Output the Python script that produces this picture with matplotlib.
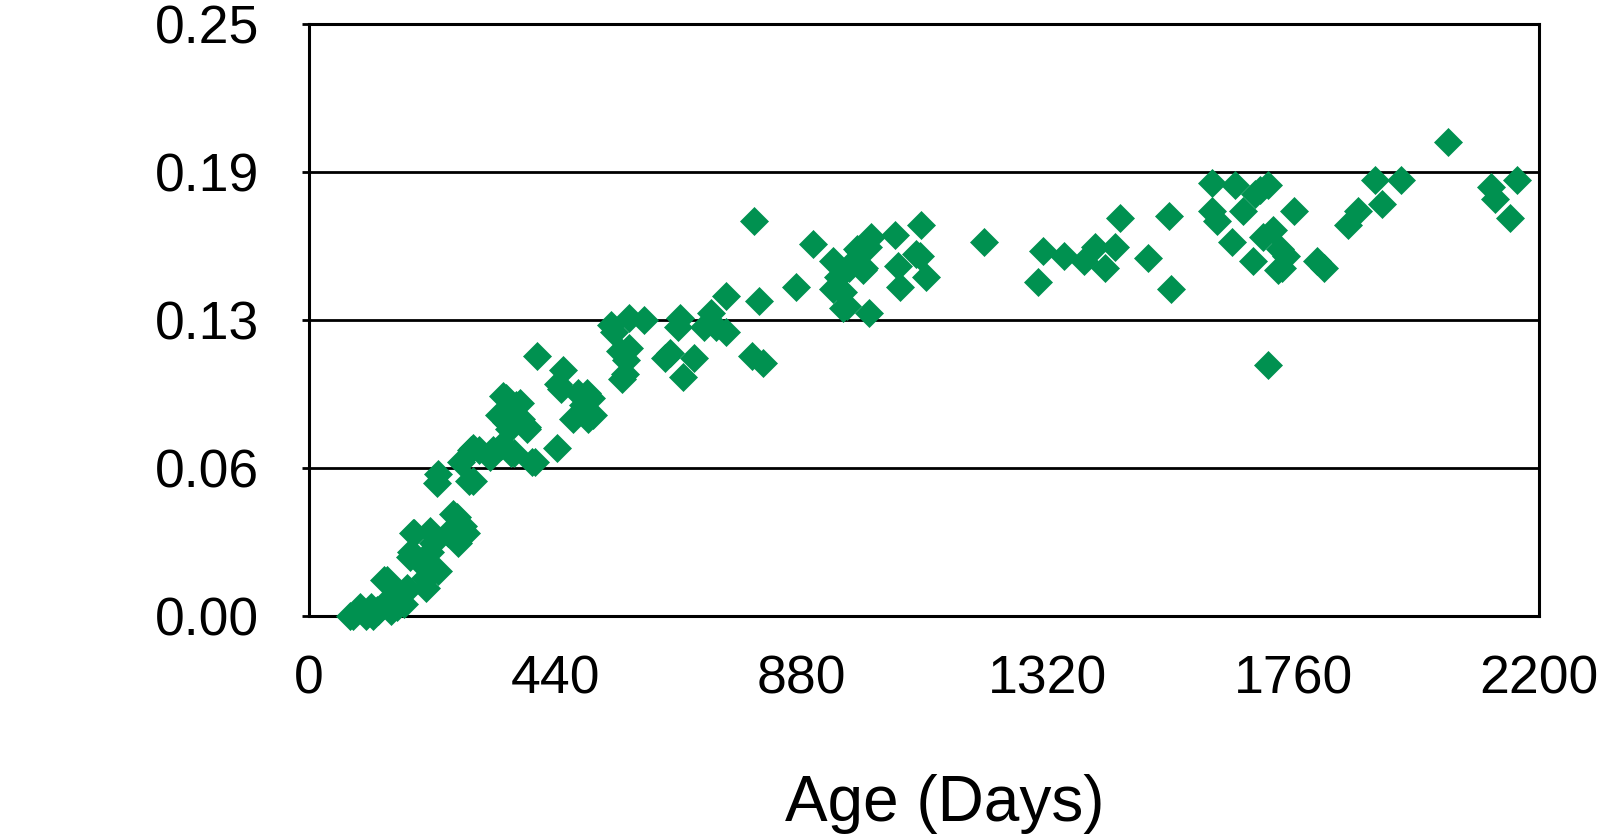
import matplotlib
matplotlib.use("Agg")
import matplotlib.pyplot as plt

plt.rcParams['font.family'] = ['Liberation Sans', 'DejaVu Sans']

# Age of each specimen (days) and the measured value
age_days = [
    79, 97, 110, 115, 124, 137, 146, 135, 161, 170, 176, 183, 188, 198, 207,
    216, 221, 230, 230, 249, 258, 267, 276, 280, 271, 289, 294, 304,
    340, 347, 357, 362, 371, 380, 390, 329, 344, 399, 408, 444, 454, 450,
    472, 481, 490, 499, 505, 541, 560, 567, 572, 572, 600, 636, 646, 664,
    660, 669, 688, 706, 719, 728, 746, 746, 796, 792, 805, 812, 871, 902,
    938, 947, 956, 962, 966, 975, 984, 993, 999, 1006, 1002, 1048, 1053,
    1057, 1085, 1094, 1103, 1207, 1304, 1313, 1350, 1386, 1405, 1423, 1441,
    1450, 1500, 1538, 1542, 1615, 1615, 1624, 1651, 1657, 1670, 1688, 1701,
    1706, 1715, 1715, 1725, 1734, 1748, 1761, 1803, 1816, 1858, 1876, 1907,
    1920, 1953, 2037, 2114, 2121, 2149, 2160,
    1692, 1737, 1741, 980, 1092, 938, 955, 991, 446, 497, 508, 353, 377,
    353, 390, 294, 324, 366, 404, 287, 556, 565, 545, 229, 264, 267, 186,
    216, 181, 221, 139, 176, 210, 91, 121, 157, 73, 102,
]
measured = [
    0.000, 0.002, 0.004, 0.000, 0.002, 0.006, 0.002, 0.015, 0.0095, 0.005,
    0.012, 0.027, 0.035, 0.023, 0.016, 0.027, 0.031, 0.060, 0.019, 0.035,
    0.043, 0.031, 0.038, 0.035, 0.065, 0.070, 0.057, 0.070,
    0.085, 0.093, 0.079, 0.069, 0.089, 0.083, 0.079, 0.070, 0.072, 0.065,
    0.110, 0.071, 0.104, 0.096, 0.083, 0.094, 0.089, 0.083, 0.092, 0.123,
    0.100, 0.108, 0.113, 0.126, 0.125, 0.109, 0.111, 0.126, 0.122, 0.101,
    0.109, 0.122, 0.128, 0.122, 0.135, 0.120, 0.167, 0.110, 0.133, 0.107,
    0.139, 0.157, 0.150, 0.143, 0.137, 0.131, 0.147, 0.150, 0.154, 0.147,
    0.156, 0.160, 0.128, 0.161, 0.148, 0.139, 0.153, 0.165, 0.143, 0.158,
    0.141, 0.154, 0.152, 0.150, 0.156, 0.147, 0.156, 0.168, 0.151, 0.169,
    0.138, 0.183, 0.171, 0.167, 0.158, 0.182, 0.171, 0.150, 0.180, 0.160,
    0.182, 0.106, 0.163, 0.146, 0.152, 0.171, 0.150, 0.147, 0.165, 0.171,
    0.184, 0.174, 0.184, 0.200, 0.181, 0.176, 0.168, 0.184,
    0.178, 0.155, 0.147, 0.155, 0.152, 0.138, 0.130, 0.146, 0.098, 0.094,
    0.085, 0.092, 0.090, 0.082, 0.080, 0.071, 0.067, 0.069, 0.065, 0.057,
    0.112, 0.102, 0.120, 0.056, 0.042, 0.032, 0.035, 0.036, 0.025, 0.019,
    0.015, 0.011, 0.012, 0.004, 0.0026, 0.004, 0.000, 0.000,
]

x_ticks = [0, 440, 880, 1320, 1760, 2200]
y_ticks = [0.0, 0.0625, 0.125, 0.1875, 0.25]
y_tick_labels = ["0.00", "0.06", "0.13", "0.19", "0.25"]

green = "#009150"

fig = plt.figure(figsize=(16.04, 8.36), dpi=100)
ax = fig.add_axes([309 / 1604, 1 - 616 / 836, (1539 - 309) / 1604, (616 - 24) / 836])

ax.plot(age_days, measured, linestyle="none", marker="D", markersize=14.5,
        markerfacecolor=green, markeredgecolor=green, markeredgewidth=0.5,
        clip_on=False, zorder=3)

ax.set_xlim(0, 2200)
ax.set_ylim(0, 0.25)
ax.set_xticks(x_ticks)
ax.set_xticklabels([str(t) for t in x_ticks])
ax.set_yticks(y_ticks)
ax.set_yticklabels(y_tick_labels)

ax.yaxis.grid(True, color="black", linewidth=2.0)
ax.set_axisbelow(True)
for s in ax.spines.values():
    s.set_color("black")
    s.set_linewidth(2.2)

ax.tick_params(axis="y", direction="out", length=5, width=2.0, pad=31,
               labelsize=38.5, colors="black")
ax.tick_params(axis="x", length=0, pad=28, labelsize=38.5, colors="black")

fig.text(945 / 1604, 1 - 821 / 836, "Age (Days)", ha="center", va="baseline",
         fontsize=46)

fig.savefig("out.png", dpi=100)
